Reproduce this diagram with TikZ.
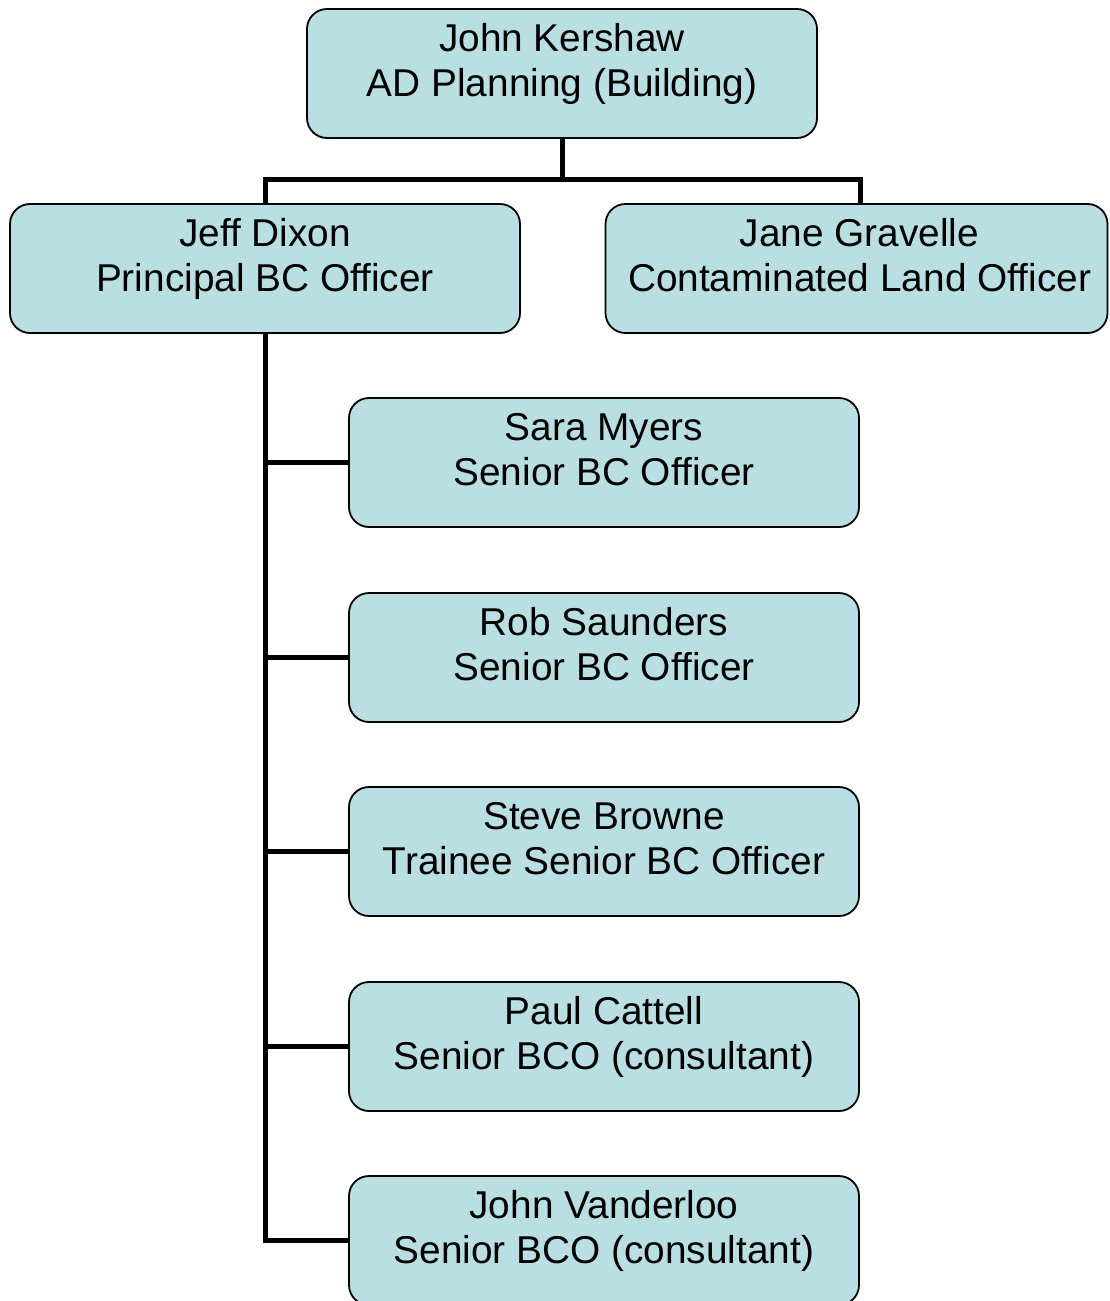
\documentclass[tikz,border=0pt]{standalone}
\usepackage{fontspec}
\setmainfont{Liberation Sans}
\definecolor{boxblue}{HTML}{BADFE3}
\begin{document}
\begin{tikzpicture}[x=1pt,y=-1pt,
  box/.style={draw=black, line width=1.8pt, fill=boxblue, rounded corners=20pt,
    minimum width=510pt, minimum height=129pt, inner sep=0pt},
  txt/.style={font=\fontsize{38.8}{45}\selectfont, anchor=base, inner sep=0pt},
  conn/.style={line width=5pt, line join=miter}]
\useasboundingbox (0,0) rectangle (1109,1301);
% boxes
\node[box] (top) at (562,73.5) {};
\node[box] (jeff) at (265,268.5) {};
\node[box, minimum width=502pt] (jane) at (856.5,268.5) {};
\node[box] (sara) at (604,462.5) {};
\node[box] (rob) at (604,657.5) {};
\node[box] (steve) at (604,851.5) {};
\node[box] (paul) at (604,1046.5) {};
\node[box] (vand) at (604,1240.5) {};
% texts
\node[txt] (top1) at ([yshift=-43pt]top.north) {John Kershaw};
\node[txt] (top2) at ([yshift=-88pt]top.north) {AD Planning (Building)};
\node[txt] (jeff1) at ([yshift=-43pt]jeff.north) {Jeff Dixon};
\node[txt] (jeff2) at ([yshift=-88pt]jeff.north) {Principal BC Officer};
\node[txt] (jane1) at ([xshift=3pt,yshift=-43pt]jane.north) {Jane Gravelle};
\node[txt] (jane2) at ([xshift=3pt,yshift=-88pt]jane.north) {Contaminated Land Officer};
\node[txt] (sara1) at ([yshift=-43pt]sara.north) {Sara Myers};
\node[txt] (sara2) at ([yshift=-88pt]sara.north) {Senior BC Officer};
\node[txt] (rob1) at ([yshift=-43pt]rob.north) {Rob Saunders};
\node[txt] (rob2) at ([yshift=-88pt]rob.north) {Senior BC Officer};
\node[txt] (steve1) at ([yshift=-43pt]steve.north) {Steve Browne};
\node[txt] (steve2) at ([yshift=-88pt]steve.north) {Trainee Senior BC Officer};
\node[txt] (paul1) at ([yshift=-43pt]paul.north) {Paul Cattell};
\node[txt] (paul2) at ([yshift=-88pt]paul.north) {Senior BCO (consultant)};
\node[txt] (vand1) at ([yshift=-43pt]vand.north) {John Vanderloo};
\node[txt] (vand2) at ([yshift=-88pt]vand.north) {Senior BCO (consultant)};
% connectors
\draw[conn] (top.south) -- ++(0,41) coordinate (bus);
\draw[conn] (jeff.north) |- (bus) -| ([xshift=3.5pt]jane.north);
\draw[conn] (jeff.south) |- (sara.west);
\draw[conn] (jeff.south) |- (rob.west);
\draw[conn] (jeff.south) |- (steve.west);
\draw[conn] (jeff.south) |- (paul.west);
\draw[conn] (jeff.south) |- (vand.west);
\end{tikzpicture}
\end{document}
